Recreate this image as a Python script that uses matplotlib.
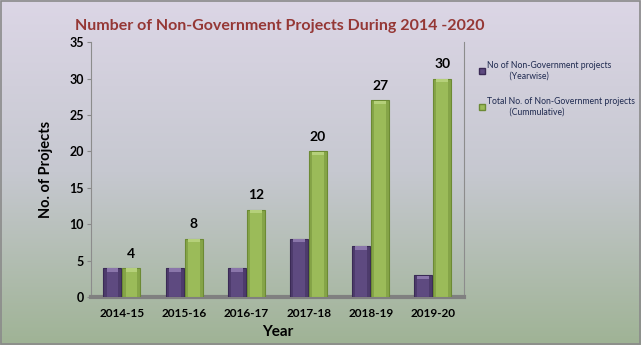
import numpy as np
import matplotlib.pyplot as plt
from matplotlib.patches import Patch, Rectangle
from matplotlib.colors import LinearSegmentedColormap

# Data
years = ['2014-15', '2015-16', '2016-17', '2017-18', '2018-19', '2019-20']
yearwise = [4, 4, 4, 8, 7, 3]
cumulative = [4, 8, 12, 20, 27, 30]

purple = '#5e4a80'
green = '#9bbb59'
plt.rcParams['font.family'] = ['Lato', 'DejaVu Sans']

fig = plt.figure(figsize=(6.41, 3.45), dpi=100)

# background gradient (lavender to sage)
bg = fig.add_axes([0, 0, 1, 1], zorder=-10)
cmap = LinearSegmentedColormap.from_list('bg', ['#dcd6e6', '#c6c8d0', '#9fb395'])
bg.imshow(np.linspace(0, 1, 256).reshape(-1, 1), aspect='auto', cmap=cmap,
          extent=[0, 1, 0, 1])
bg.axis('off')
fig.patches.append(Rectangle((0.001, 0.002), 0.997, 0.995, transform=fig.transFigure,
                             fill=False, edgecolor='#8a8a8a', lw=1.2))

ax = fig.add_axes([0.142, 0.139, 0.582, 0.739])
ax.patch.set_alpha(0)
x = np.arange(len(years))
w = 0.29


def bevel_bars(xs, vals, color, dark, light):
    ax.bar(xs, vals, w, color=color, edgecolor=dark, lw=0.8, zorder=3)
    ax.bar(xs - w / 2 + 0.025, vals, 0.05, color=dark, alpha=0.45, lw=0, zorder=4)
    ax.bar(xs + w / 2 - 0.025, vals, 0.05, color=dark, alpha=0.45, lw=0, zorder=4)
    ax.bar(xs, [0.45] * len(vals), w - 0.1, bottom=np.array(vals) - 0.5,
           color=light, lw=0, zorder=4)


bevel_bars(x - 0.155, yearwise, purple, '#3a2a55', '#8a76aa')
bevel_bars(x + 0.15, cumulative, green, '#6c8a34', '#b5d07a')

for xi, v in zip(x, cumulative):
    ax.annotate(str(v), (xi + 0.15, v), xytext=(0, 6), textcoords='offset points',
                ha='center', va='bottom', fontsize=10, fontweight='bold')

ax.set_xlim(-0.5, 5.5)
ax.set_ylim(0, 35)
ax.set_yticks(range(0, 36, 5))
ax.set_xticks(x)
ax.set_xticklabels(years)
ax.tick_params(axis='y', labelsize=9, length=3, color='#888888', pad=2)
ax.tick_params(axis='x', labelsize=8.5, length=0, pad=8)
for lab in ax.get_xticklabels() + ax.get_yticklabels():
    lab.set_fontweight('bold')
ax.spines['top'].set_visible(False)
ax.spines['left'].set_color('#8c8c8c')
ax.spines['right'].set_color('#8c8c8c')
ax.spines['bottom'].set_color('#808080')
ax.spines['bottom'].set_linewidth(3)
ax.set_ylabel('No. of Projects', fontsize=10.5, fontweight='bold', labelpad=12)
ax.set_xlabel('Year', fontsize=11, fontweight='bold', labelpad=4)

fig.text(0.437, 0.925, 'Number of Non-Government Projects During 2014 -2020',
         ha='center', va='center', fontsize=11.5, fontweight='bold', color='#953735')

handles = [Patch(facecolor=purple, edgecolor='#3a2a55'),
           Patch(facecolor=green, edgecolor='#6c8a34')]
labels = ['No of Non-Government projects\n          (Yearwise)',
          'Total No. of Non-Government projects\n          (Cummulative)']
fig.legend(handles, labels, loc='upper left', bbox_to_anchor=(0.735, 0.845),
           frameon=False, fontsize=6.2, handlelength=0.7, handleheight=0.7,
           handletextpad=0.2, labelspacing=1.9, labelcolor='#1f2a50')

fig.savefig('out.png', dpi=100)
